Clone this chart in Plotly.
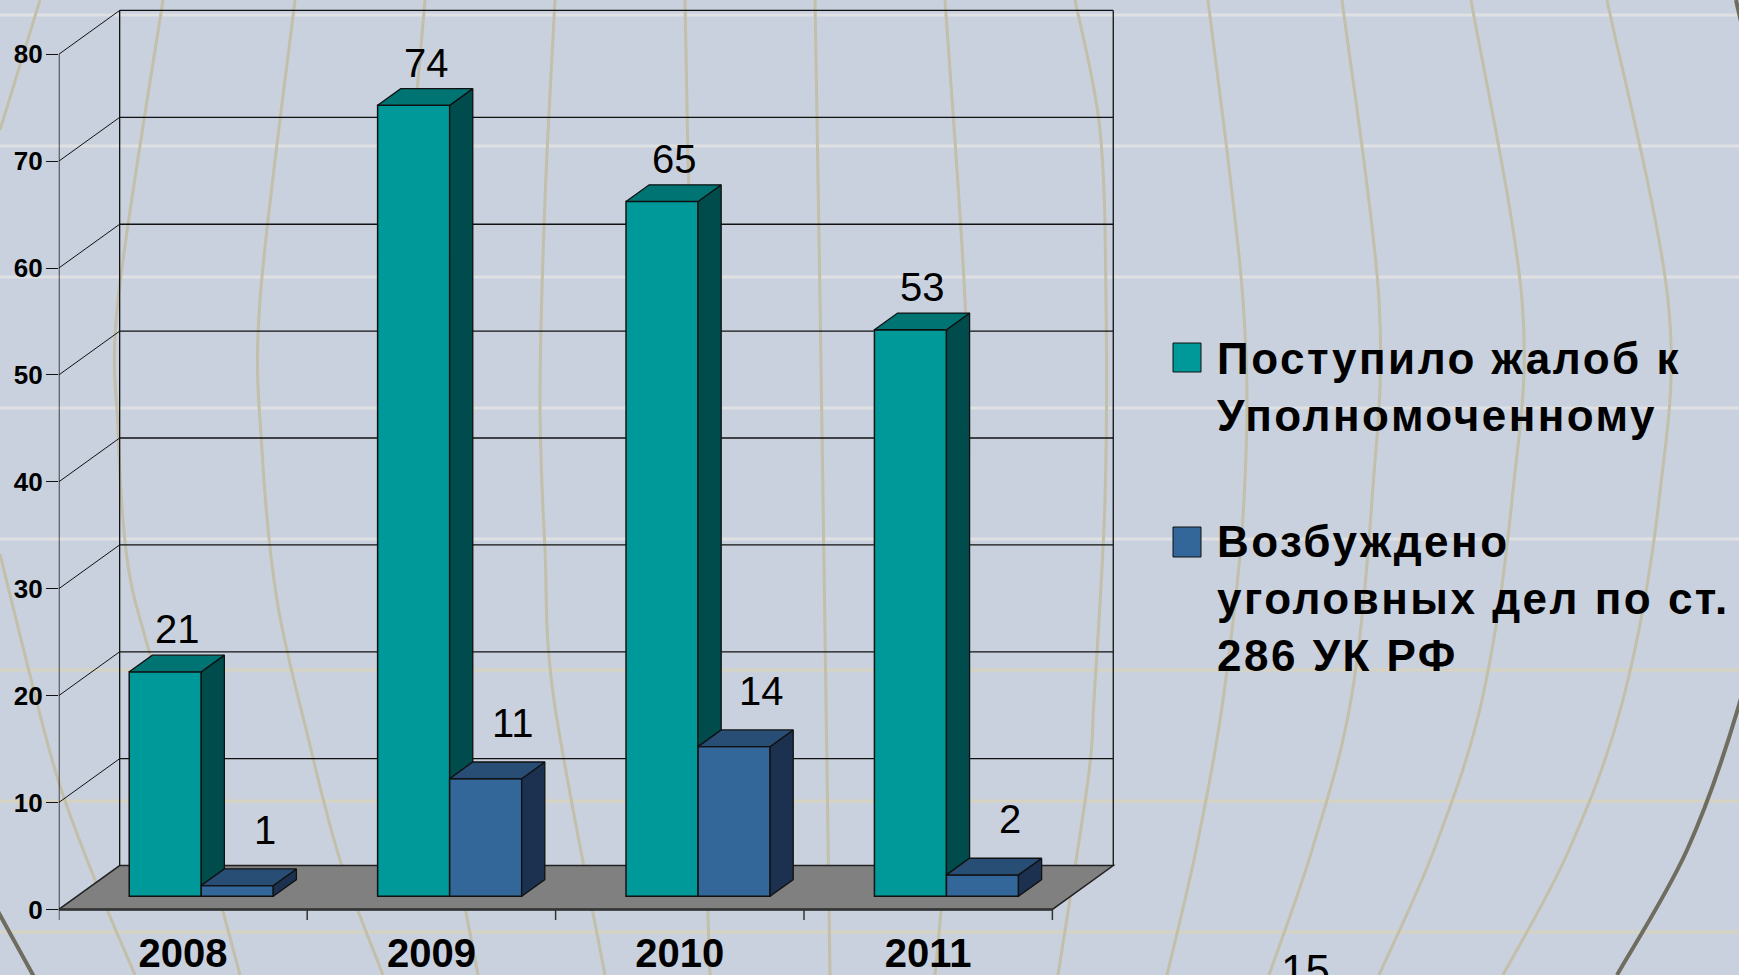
import plotly.graph_objects as go

# ---------------- data ----------------
years = ["2008", "2009", "2010", "2011"]
complaints = [21, 74, 65, 53]          # Поступило жалоб к Уполномоченному
cases = [1, 11, 14, 2]                 # Возбуждено уголовных дел по ст. 286 УК РФ
series_names = ["Поступило жалоб к<br>Уполномоченному",
                "Возбуждено<br>уголовных дел по ст.<br>286 УК РФ"]
y_ticks = [0, 10, 20, 30, 40, 50, 60, 70, 80]
slide_number = "15"

# ---------------- styling / geometry ----------------
W, H = 1739, 975
BG = "#C9D1DE"
TEAL, TEAL_TOP, TEAL_SIDE = "#009999", "#007373", "#004C4C"
BLUE, BLUE_TOP, BLUE_SIDE = "#336699", "#284E76", "#1C3150"
FLOOR = "#808080"
INK = "#111111"
FONT = "Liberation Sans, Arial, sans-serif"

X0, UX = 58.8, 248.4       # pixel of x=0, pixels per category unit
Y0, UY = 909.4, 10.689     # pixel of y=0, pixels per value unit
XR = (0.0, 4.27)
YR = (-1.0, 85.0)
DX, DY = 0.245, 4.1        # depth offset of the back wall (axis units)
F0, FD = 0.30, 0.38        # bar front depth fraction, bar depth fraction
BW = 0.29                  # bar width
base = F0 * DY
ddx, ddy = FD * DX, FD * DY
YMAX = y_ticks[-1]
ncat = len(years)

dom_x = [(X0 + XR[0] * UX) / W, (X0 + XR[1] * UX) / W]
dom_y = [1 - (Y0 - YR[0] * UY) / H, 1 - (Y0 - YR[1] * UY) / H]


def paper(px, py):
    return px / W, 1 - py / H


def smooth_path(pts):
    p = [paper(*q) for q in pts]
    s = "M %.5f,%.5f" % p[0]
    for i in range(len(p) - 1):
        p0 = p[i - 1] if i > 0 else p[i]
        p1, p2 = p[i], p[i + 1]
        p3 = p[i + 2] if i + 2 < len(p) else p[i + 1]
        c1 = (p1[0] + (p2[0] - p0[0]) / 6, p1[1] + (p2[1] - p0[1]) / 6)
        c2 = (p2[0] - (p3[0] - p1[0]) / 6, p2[1] - (p3[1] - p1[1]) / 6)
        s += " C %.5f,%.5f %.5f,%.5f %.5f,%.5f" % (c1 + c2 + p2)
    return s


shapes = []

# ---- decorative slide background (globe grid) ----
for k in range(8):
    py = 15 + 131 * k
    col = "#DFE0E2" if k < 5 else "#D6D3C0"
    shapes.append(dict(type="line", xref="paper", yref="paper", x0=0, x1=1,
                       y0=1 - py / H, y1=1 - py / H, layer="below",
                       line=dict(color=col, width=3)))

meridians = [
    [(40, 0), (0, 130)],
    [(0, 554), (33, 687), (60, 786), (97, 885), (135, 975)],
    [(163, 0), (118, 300), (118, 429), (127, 558), (147, 644), (190, 790), (240, 975)],
    [(295, 0), (260, 300), (262, 450), (277, 600), (307, 733), (340, 860), (383, 975)],
    [(425, 0), (405, 250), (402, 450), (415, 620), (445, 800), (478, 975)],
    [(555, 0), (545, 200), (540, 400), (545, 550), (554, 700), (605, 975)],
    [(685, 0), (688, 160), (695, 400), (701, 700), (710, 975)],
    [(815, 0), (820, 300), (826, 700), (830, 975)],
    [(945, 0), (965, 300), (968, 500), (955, 750), (935, 975)],
    [(1075, 0), (1100, 130), (1106, 300), (1105, 500), (1094, 700), (1088, 780), (1058, 975)],
    [(1208, 0), (1243, 300), (1244, 500), (1223, 700), (1196, 850), (1167, 975)],
    [(1342, 0), (1379, 300), (1372, 500), (1351, 700), (1312, 850), (1269, 975)],
    [(1471, 0), (1522, 300), (1512, 500), (1482, 700), (1434, 850), (1379, 975)],
    [(1607, 0), (1668, 300), (1659, 500), (1623, 700), (1569, 850), (1503, 975)],
]
for m in meridians:
    shapes.append(dict(type="path", xref="paper", yref="paper", layer="below",
                       path=smooth_path(m), line=dict(color="#C2BFAA", width=3)))
shapes.append(dict(type="path", xref="paper", yref="paper", layer="below",
                   path=smooth_path([(1736, 0), (1800, 300), (1790, 500), (1739, 705),
                                     (1687, 850), (1617, 975)]),
                   line=dict(color="#6E6D60", width=4)))
shapes.append(dict(type="path", xref="paper", yref="paper", layer="below",
                   path=smooth_path([(-10, 895), (0, 915), (33, 975), (40, 990)]),
                   line=dict(color="#6E6D60", width=4)))

# ---- 3D frame: floor, back wall, side wall grid ----
shapes.append(dict(type="path", xref="x", yref="y", layer="below",
                   path="M 0,0 L %g,0 L %g,%g L %g,%g Z" % (ncat, ncat + DX, DY, DX, DY),
                   fillcolor=FLOOR, line=dict(color="#222222", width=1.5)))
shapes.append(dict(type="line", xref="x", yref="y", layer="below",
                   x0=0, x1=ncat, y0=0, y1=0, line=dict(color="#333333", width=2.5)))
for t in y_ticks[1:]:
    shapes.append(dict(type="line", xref="x", yref="y", layer="below",
                       x0=0, y0=t, x1=DX, y1=t + DY, line=dict(color=INK, width=1)))
    shapes.append(dict(type="line", xref="x", yref="y", layer="below",
                       x0=DX, y0=t + DY, x1=ncat + DX, y1=t + DY,
                       line=dict(color=INK, width=1.3)))
for xv in (DX, ncat + DX):
    shapes.append(dict(type="line", xref="x", yref="y", layer="below",
                       x0=xv, y0=DY, x1=xv, y1=YMAX + DY, line=dict(color=INK, width=1.3)))
# front value axis
shapes.append(dict(type="line", xref="x", yref="y", layer="below",
                   x0=0, y0=0, x1=0, y1=YMAX, line=dict(color=INK, width=1.5)))
# category tick marks below the floor edge
for i in range(ncat + 1):
    shapes.append(dict(type="line", xref="x", yref="y", layer="below",
                       x0=i, x1=i, ysizemode="pixel", yanchor=0, y0=0, y1=-12,
                       line=dict(color="#333333", width=1.5)))

# ---- legend (custom, large swatches) ----
legend_items = [(TEAL, 343, 372, 386.5), (BLUE, 527, 557, 598)]
annotations = []
for (col, ya, yb, yc), name in zip(legend_items, series_names):
    xa, ya_p = paper(1173, ya)
    xb, yb_p = paper(1201, yb)
    shapes.append(dict(type="rect", xref="paper", yref="paper", x0=xa, x1=xb,
                       y0=yb_p, y1=ya_p, fillcolor=col, line=dict(color=INK, width=1)))
    tx, ty = paper(1215, yc)
    annotations.append(dict(xref="paper", yref="paper", x=tx, y=ty, xanchor="left",
                            yanchor="middle", showarrow=False, align="left",
                            text='<span style="letter-spacing:2.5px">' + name + '</span>',
                            font=dict(family=FONT, size=44, color="black", weight="bold")))

fig = go.Figure()

series = [
    (complaints, -BW / 2, TEAL, TEAL_TOP, TEAL_SIDE, 4.0, 0.05),
    (cases, BW / 2, BLUE, BLUE_TOP, BLUE_SIDE, 5.2, 0.11),
]
xc = {}
for vals, off, col, _, _, _, _ in series:
    xs = [i + 0.5 + off + F0 * DX for i in range(ncat)]
    xc[col] = xs
    fig.add_trace(go.Bar(x=xs, y=vals, base=base, width=BW,
                         marker=dict(color=col, line=dict(color=INK, width=1.5)),
                         hoverinfo="skip", showlegend=False))


def poly_trace(polys, fillcolor):
    xs, ys = [], []
    for p in polys:
        xs += [q[0] for q in p] + [p[0][0], None]
        ys += [q[1] for q in p] + [p[0][1], None]
    return go.Scatter(x=xs, y=ys, mode="lines", fill="toself", fillcolor=fillcolor,
                      line=dict(color=INK, width=1.3), hoverinfo="skip", showlegend=False)


for si, (vals, off, col, topc, sidec, loff, lx) in enumerate(series):
    tops, sides = [], []
    for i, v in enumerate(vals):
        x0 = xc[col][i] - BW / 2
        x1 = x0 + BW
        top = base + v
        tops.append([(x0, top), (x1, top), (x1 + ddx, top + ddy), (x0 + ddx, top + ddy)])
        low = base
        if si == 0:  # part of first bar's side hidden by the second bar in front
            low = base + min(cases[i], v)
        sides.append([(x1, low), (x1 + ddx, low + ddy), (x1 + ddx, top + ddy), (x1, top)])
    fig.add_trace(poly_trace(sides, sidec))
    fig.add_trace(poly_trace(tops, topc))
    for i, v in enumerate(vals):
        annotations.append(dict(x=xc[col][i] + lx, y=base + v + loff, xref="x", yref="y",
                                text=str(v), showarrow=False, yanchor="middle",
                                font=dict(family=FONT, size=40, color="black")))

sx, sy = paper(1305, 944)
annotations.append(dict(xref="paper", yref="paper", x=sx, y=sy, xanchor="center",
                        yanchor="top", text=slide_number, showarrow=False,
                        font=dict(family=FONT, size=44, color="black")))

fig.update_layout(
    width=W, height=H,
    margin=dict(l=0, r=0, t=0, b=0, autoexpand=False),
    paper_bgcolor=BG, plot_bgcolor="rgba(0,0,0,0)",
    barmode="overlay",
    shapes=shapes, annotations=annotations,
    showlegend=False,
    xaxis=dict(domain=dom_x, range=list(XR), showgrid=False, zeroline=False,
               showline=False, ticks="", tickvals=[i + 0.5 for i in range(ncat)],
               ticktext=years, ticklabelstandoff=6, automargin=False,
               tickfont=dict(family=FONT, size=40, color="black", weight="bold")),
    yaxis=dict(domain=dom_y, range=list(YR), showgrid=False, zeroline=False,
               showline=False, ticks="outside", ticklen=12, tickwidth=1.3,
               tickcolor=INK, tickvals=y_ticks, ticklabelstandoff=-2, automargin=False,
               tickfont=dict(family=FONT, size=26, color="black", weight="bold")),
)

fig.write_html("out.html", config={"displayModeBar": False},
               post_script="document.body.style.margin='0';"
                           "document.body.style.background='" + BG + "';")
